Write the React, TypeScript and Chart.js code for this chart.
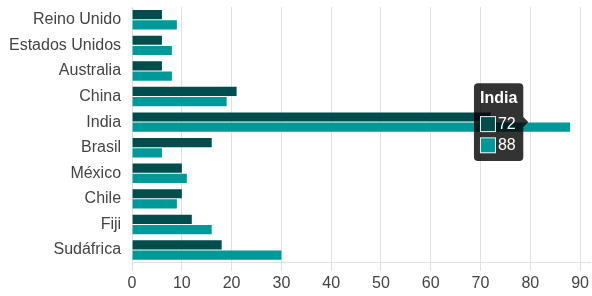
import React, { useEffect, useRef } from "react";
import { Chart, registerables } from "chart.js";

Chart.register(...registerables);

const categories = ["Reino Unido", "Estados Unidos", "Australia", "China", "India", "Brasil", "México", "Chile", "Fiji", "Sudáfrica"];
const seriesA = [6, 6, 6, 21, 72, 16, 10, 10, 12, 18];
const seriesB = [9, 8, 8, 19, 88, 6, 11, 9, 16, 30];
const xTicks = [0, 10, 20, 30, 40, 50, 60, 70, 80, 90];
const colorA = "#004d4d";
const colorB = "#009999";
const activeIndex = 4;
const FONT = "Arial, 'Liberation Sans', sans-serif";

export default function App() {
  const ref = useRef<HTMLCanvasElement>(null);
  useEffect(() => {
    if (!ref.current) return;
    const chart = new Chart(ref.current, {
      type: "bar",
      data: {
        labels: categories,
        datasets: [
          { label: "A", data: seriesA, backgroundColor: colorA, hoverBackgroundColor: colorA, borderWidth: 0 },
          { label: "B", data: seriesB, backgroundColor: colorB, hoverBackgroundColor: colorB, borderWidth: 0 },
        ],
      },
      options: {
        indexAxis: "y",
        animation: false,
        responsive: false,
        maintainAspectRatio: false,
        layout: { padding: { top: 7, right: 1, left: 6, bottom: 0 } },
        plugins: {
          legend: { display: false },
          tooltip: {
            mode: "index",
            intersect: false,
            titleFont: { family: FONT, size: 16, weight: "bold" },
            bodyFont: { family: FONT, size: 16 },
            padding: 6,
            caretSize: 5,
            cornerRadius: 4,
            displayColors: true,
            callbacks: {
              label: (ctx: any) => String(ctx.parsed.x),
            },
          },
        },
        scales: {
          x: {
            min: 0,
            max: 92,
            afterBuildTicks: (axis: any) => {
              axis.ticks = xTicks.map((v) => ({ value: v }));
            },
            ticks: { color: "#444", font: { family: FONT, size: 16 } },
            grid: { color: "#e0e0e0" },
            border: { color: "#e0e0e0" },
          },
          y: {
            ticks: { color: "#444", font: { family: FONT, size: 16, lineHeight: 0.5 } },
            grid: { display: false },
            border: { color: "#e0e0e0" },
          },
        },
      },
    });
    const els = [
      { datasetIndex: 0, index: activeIndex },
      { datasetIndex: 1, index: activeIndex },
    ];
    chart.setActiveElements(els);
    chart.tooltip?.setActiveElements(els, { x: 0, y: 0 });
    chart.update();
    return () => chart.destroy();
  }, []);
  return (
    <div style={{ position: "fixed", left: 0, top: 0, width: 592, height: 296, background: "#fff" }}>
      <canvas ref={ref} width={592} height={296} />
    </div>
  );
}
